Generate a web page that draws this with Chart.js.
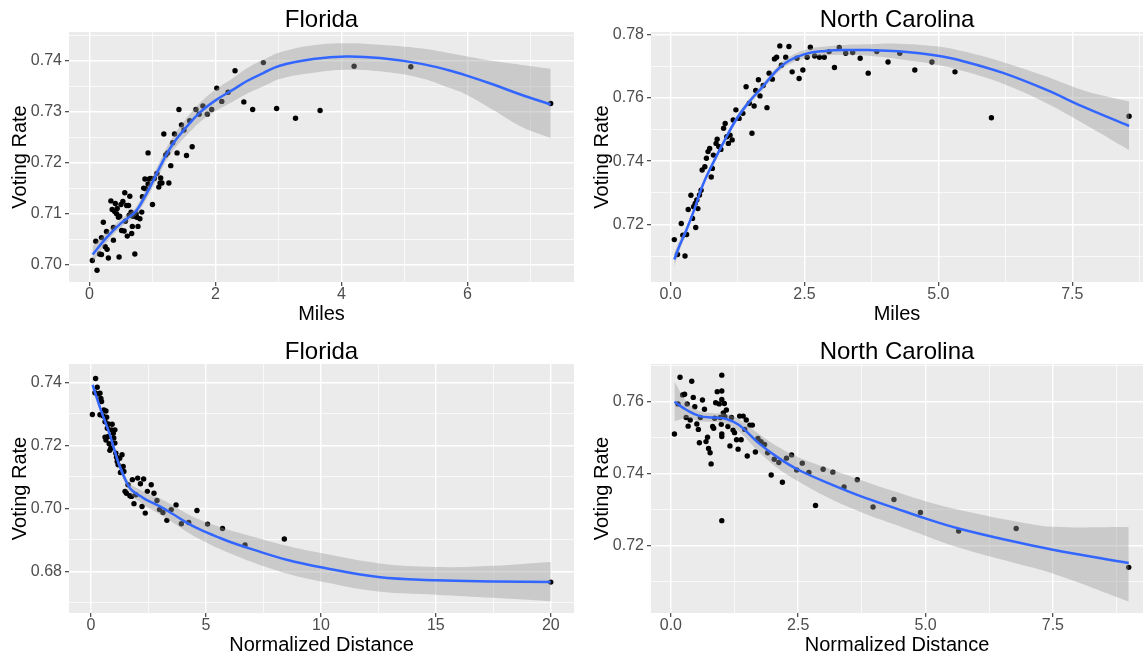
<!DOCTYPE html>
<html>
<head>
<meta charset="utf-8">
<script src="https://cdn.jsdelivr.net/npm/chart.js@4.4.1/dist/chart.umd.min.js"></script>
<style>
  body { margin: 0; background: #fff; width: 1147px; height: 657px; overflow: hidden; position: relative; }
  canvas { position: absolute; }
</style>
</head>
<body>
<canvas id="flMiles" width="580" height="330" style="left:0;top:0"></canvas>
<canvas id="ncMiles" width="565" height="330" style="left:582px;top:0"></canvas>
<canvas id="flNorm" width="580" height="325" style="left:0;top:332px"></canvas>
<canvas id="ncNorm" width="565" height="325" style="left:582px;top:332px"></canvas>
<script>
// Florida, Miles
const flMilesX = [0.045, 0.12, 0.10, 0.19, 0.22, 0.19, 0.16, 0.25, 0.28, 0.27, 0.30, 0.34, 0.38, 0.38, 0.41, 0.36, 0.43, 0.47, 0.48, 0.46,
  0.51, 0.53, 0.56, 0.59, 0.55, 0.62, 0.64, 0.60, 0.67, 0.68, 0.72, 0.69, 0.75, 0.77, 0.80, 0.83, 0.84, 0.88, 0.89, 0.93,
  0.93, 0.97, 1.00, 1.03, 1.07, 1.10, 1.12, 1.15, 1.18, 1.21, 1.24, 1.26, 1.29, 1.32, 1.35, 1.39, 1.42, 1.46, 1.50, 1.54,
  1.59, 1.63, 1.69, 1.74, 1.80, 1.87, 1.94, 2.02, 2.10, 2.20, 2.31, 2.45, 2.59, 2.76, 2.97, 3.27, 3.66, 4.20, 5.10, 7.32,
  0.40, 0.44, 0.50, 0.57, 0.63, 0.66, 0.74, 0.86, 0.95, 1.13];
const flMilesY = [0.7008, 0.6989, 0.7046, 0.7053, 0.7083, 0.7020, 0.7021, 0.7035, 0.7030, 0.7065, 0.7013, 0.7125, 0.7073, 0.7048, 0.7120, 0.7108, 0.7100, 0.7015, 0.7095, 0.7093,
  0.7067, 0.7124, 0.7141, 0.7116, 0.7066, 0.7116, 0.7134, 0.7056, 0.7061, 0.7075, 0.7021, 0.7095, 0.7093, 0.7075, 0.7090, 0.7103, 0.7133, 0.7168, 0.7149, 0.7219,
  0.7158, 0.7169, 0.7118, 0.7169, 0.7179, 0.7152, 0.7160, 0.7160, 0.7256, 0.7215, 0.7219, 0.7160, 0.7194, 0.7239, 0.7256, 0.7219, 0.7304, 0.7274, 0.7264, 0.7214,
  0.7282, 0.7231, 0.7304, 0.7295, 0.7311, 0.7295, 0.7304, 0.7346, 0.7320, 0.7338, 0.7380, 0.7319, 0.7304, 0.7396, 0.7306, 0.7287, 0.7302, 0.7389, 0.7388, 0.7316,
  0.7104, 0.7110, 0.7118, 0.7085, 0.7097, 0.7103, 0.7100, 0.7150, 0.7168, 0.7170];
const flMilesFitX = [0.05, 0.27, 0.48, 0.69, 0.77, 0.96, 1.17, 1.33, 1.54, 1.75, 2.0, 2.28, 2.5, 2.75, 3.02, 3.55, 4.08, 4.61, 5.25, 5.7, 6.0, 6.41, 6.83, 7.32];
const flMilesFit = [0.7020, 0.7053, 0.7079, 0.7099, 0.7110, 0.7152, 0.7204, 0.7238, 0.7270, 0.7298, 0.7322, 0.7343, 0.7360, 0.7375, 0.7390, 0.7403, 0.7408, 0.7405, 0.7394, 0.7381, 0.7370, 0.7353, 0.7334, 0.7314];
const flMilesHi = [0.7036, 0.7063, 0.7087, 0.7107, 0.7119, 0.7163, 0.7216, 0.7252, 0.7287, 0.7317, 0.7343, 0.7366, 0.7385, 0.7401, 0.7416, 0.7430, 0.7434, 0.7431, 0.7424, 0.7415, 0.7408, 0.7399, 0.7392, 0.7384];
const flMilesLo = [0.7004, 0.7043, 0.7071, 0.7091, 0.7101, 0.7141, 0.7192, 0.7224, 0.7253, 0.7279, 0.7301, 0.7320, 0.7335, 0.7349, 0.7364, 0.7376, 0.7382, 0.7379, 0.7366, 0.7347, 0.7332, 0.7303, 0.7272, 0.7248];
const flMilesXTicks = ['0', '2', '4', '6'];
const flMilesYTicks = ['0.70', '0.71', '0.72', '0.73', '0.74'];

// North Carolina, Miles
const ncMilesX = [0.07, 0.13, 0.20, 0.23, 0.27, 0.30, 0.33, 0.38, 0.41, 0.43, 0.46, 0.47, 0.49, 0.51, 0.54, 0.57, 0.59, 0.64, 0.67, 0.70,
  0.73, 0.76, 0.78, 0.80, 0.85, 0.87, 0.90, 0.94, 0.99, 1.02, 1.05, 1.08, 1.11, 1.15, 1.17, 1.22, 1.28, 1.35, 1.41, 1.47,
  1.52, 1.56, 1.59, 1.64, 1.67, 1.73, 1.80, 1.84, 1.90, 1.94, 1.98, 2.04, 2.07, 2.15, 2.21, 2.27, 2.36, 2.40, 2.47, 2.55,
  2.61, 2.69, 2.78, 2.87, 2.96, 3.06, 3.15, 3.27, 3.40, 3.54, 3.69, 3.85, 4.06, 4.28, 4.56, 4.88, 5.31, 5.99, 8.56];
const ncMilesY = [0.7152, 0.7105, 0.7203, 0.7166, 0.7100, 0.7168, 0.7247, 0.7292, 0.7219, 0.7256, 0.7266, 0.7190, 0.7277, 0.7250, 0.7293, 0.7308, 0.7372, 0.7382, 0.7409, 0.7430,
  0.7440, 0.7350, 0.7377, 0.7419, 0.7456, 0.7469, 0.7446, 0.7437, 0.7504, 0.7519, 0.7477, 0.7456, 0.7482, 0.7467, 0.7530, 0.7562, 0.7535, 0.7551, 0.7635, 0.7583,
  0.7488, 0.7574, 0.7623, 0.7657, 0.7606, 0.7639, 0.7569, 0.7678, 0.7659, 0.7723, 0.7728, 0.7764, 0.7703, 0.7728, 0.7762, 0.7682, 0.7725, 0.7661, 0.7688, 0.7728,
  0.7760, 0.7732, 0.7728, 0.7728, 0.7746, 0.7696, 0.7759, 0.7741, 0.7743, 0.7725, 0.7678, 0.7746, 0.7713, 0.7741, 0.7688, 0.7713, 0.7682, 0.7537, 0.7542];
const ncMilesFitX = [0.07, 0.17, 0.30, 0.45, 0.60, 0.79, 0.98, 1.22, 1.47, 1.72, 1.96, 2.21, 2.52, 2.89, 3.26, 3.69, 4.25, 4.99, 5.48, 6.22, 7.02, 7.7, 8.56];
const ncMilesFit = [0.7089, 0.7134, 0.7184, 0.7250, 0.7324, 0.7393, 0.7456, 0.7530, 0.7588, 0.7635, 0.7683, 0.7717, 0.7739, 0.7748, 0.7751, 0.7751, 0.7747, 0.7733, 0.7715, 0.7678, 0.7625, 0.7572, 0.7511];
const ncMilesHi = [0.7110, 0.7150, 0.7195, 0.7260, 0.7333, 0.7402, 0.7465, 0.7539, 0.7597, 0.7645, 0.7693, 0.7728, 0.7752, 0.7762, 0.7767, 0.7769, 0.7771, 0.7762, 0.7746, 0.7712, 0.7667, 0.7624, 0.7588];
const ncMilesLo = [0.7066, 0.7118, 0.7173, 0.7240, 0.7315, 0.7384, 0.7447, 0.7521, 0.7579, 0.7625, 0.7673, 0.7706, 0.7726, 0.7734, 0.7735, 0.7733, 0.7723, 0.7704, 0.7684, 0.7644, 0.7583, 0.7520, 0.7435];
const ncMilesXTicks = ['0.0', '2.5', '5.0', '7.5'];
const ncMilesYTicks = ['0.72', '0.74', '0.76', '0.78'];

// Florida, Normalized Distance
const flNormX = [0.06, 0.17, 0.20, 0.27, 0.29, 0.39, 0.43, 0.39, 0.46, 0.53, 0.56, 0.61, 0.65, 0.68, 0.71, 0.75, 0.61, 0.65, 0.75, 0.79,
  0.82, 0.86, 0.89, 0.92, 0.97, 0.99, 1.04, 1.04, 1.08, 1.11, 1.14, 1.18, 1.25, 1.28, 1.35, 1.40, 1.43, 1.48, 1.54, 1.61,
  1.69, 1.76, 1.80, 1.87, 1.95, 2.03, 2.15, 2.22, 2.29, 2.36, 2.45, 2.62, 2.74, 2.87, 2.98, 3.13, 3.30, 3.49, 3.70, 3.93,
  4.25, 4.61, 5.07, 5.72, 6.70, 8.41, 20.0];
const flNormY = [0.7298, 0.7367, 0.7412, 0.7384, 0.7363, 0.7365, 0.7349, 0.7297, 0.7339, 0.7293, 0.7312, 0.7275, 0.7309, 0.7289, 0.7254, 0.7268, 0.7226, 0.7217, 0.7228, 0.7205,
  0.7184, 0.7191, 0.7249, 0.7267, 0.7238, 0.7223, 0.7207, 0.7249, 0.7175, 0.7162, 0.7149, 0.7138, 0.7159, 0.7114, 0.7170, 0.7133, 0.7117, 0.7054, 0.7048, 0.7075,
  0.7040, 0.7038, 0.7091, 0.7015, 0.7043, 0.7096, 0.7078, 0.7006, 0.7093, 0.6985, 0.7054, 0.7075, 0.7048, 0.7025, 0.6996, 0.6987, 0.6962, 0.6996, 0.7011, 0.6951,
  0.6955, 0.6993, 0.6950, 0.6936, 0.6884, 0.6903, 0.6766];
const flNormFitX = [0.07, 0.4, 0.8, 1.0, 1.2, 1.5, 1.7, 1.9, 2.13, 2.41, 3.0, 3.56, 4.16, 4.71, 5.61, 6.15, 7.06, 8.51, 10, 12.5, 15, 17.5, 20];
const flNormFit = [0.7392, 0.7318, 0.7238, 0.7190, 0.7143, 0.7090, 0.7064, 0.7050, 0.7040, 0.7027, 0.7006, 0.6982, 0.6955, 0.6934, 0.6906, 0.6891, 0.6869, 0.6837, 0.6813, 0.6782, 0.6772, 0.6768, 0.6766];
const flNormHi = [0.7404, 0.7328, 0.7248, 0.7201, 0.7155, 0.7103, 0.7079, 0.7068, 0.7060, 0.7049, 0.7031, 0.7009, 0.6984, 0.6965, 0.6941, 0.6928, 0.6910, 0.6881, 0.6858, 0.6826, 0.6814, 0.6818, 0.6830];
const flNormLo = [0.7380, 0.7308, 0.7228, 0.7179, 0.7131, 0.7077, 0.7049, 0.7032, 0.7020, 0.7005, 0.6981, 0.6955, 0.6926, 0.6903, 0.6871, 0.6854, 0.6828, 0.6793, 0.6768, 0.6736, 0.6726, 0.6716, 0.6705];
const flNormXTicks = ['0', '5', '10', '15', '20'];
const flNormYTicks = ['0.68', '0.70', '0.72', '0.74'];

// North Carolina, Normalized Distance
const ncNormX = [0.07, 0.14, 0.18, 0.23, 0.27, 0.30, 0.32, 0.34, 0.38, 0.41, 0.44, 0.47, 0.51, 0.54, 0.56, 0.58, 0.62, 0.66, 0.69, 0.72,
  0.74, 0.77, 0.79, 0.82, 0.84, 0.86, 0.88, 0.91, 0.95, 0.97, 0.99, 1.00, 1.00, 1.00, 1.00, 1.00, 1.00, 1.03, 1.05, 1.06,
  1.09, 1.12, 1.16, 1.19, 1.22, 1.25, 1.29, 1.32, 1.35, 1.38, 1.42, 1.45, 1.48, 1.50, 1.55, 1.60, 1.66, 1.71, 1.77, 1.84,
  1.90, 1.97, 2.03, 2.12, 2.19, 2.27, 2.37, 2.47, 2.58, 2.71, 2.84, 2.99, 3.18, 3.40, 3.66, 3.97, 4.38, 4.90, 5.65, 6.78, 8.99];
const ncNormY = [0.7510, 0.7594, 0.7668, 0.7619, 0.7621, 0.7556, 0.7594, 0.7532, 0.7549, 0.7657, 0.7612, 0.7586, 0.7538, 0.7523, 0.7486, 0.7556, 0.7605, 0.7579, 0.7489, 0.7501,
  0.7470, 0.7458, 0.7427, 0.7531, 0.7526, 0.7554, 0.7597, 0.7628, 0.7594, 0.7556, 0.7537, 0.7674, 0.7630, 0.7606, 0.7510, 0.7503, 0.7269, 0.7569, 0.7595, 0.7558,
  0.7577, 0.7531, 0.7477, 0.7556, 0.7521, 0.7514, 0.7494, 0.7468, 0.7560, 0.7494, 0.7560, 0.7523, 0.7549, 0.7449, 0.7535, 0.7535, 0.7460, 0.7498, 0.7489, 0.7481,
  0.7458, 0.7396, 0.7440, 0.7431, 0.7376, 0.7443, 0.7452, 0.7410, 0.7429, 0.7403, 0.7311, 0.7412, 0.7404, 0.7363, 0.7383, 0.7307, 0.7328, 0.7292, 0.7240, 0.7247, 0.7139];
const ncNormFitX = [0.07, 0.31, 0.57, 0.83, 1.09, 1.34, 1.73, 2.12, 2.51, 3.1, 3.75, 4.4, 4.98, 5.63, 6.73, 7.5, 8.99];
const ncNormFit = [0.7600, 0.7577, 0.7560, 0.7556, 0.7552, 0.7535, 0.7484, 0.7443, 0.7410, 0.7373, 0.7336, 0.7304, 0.7276, 0.7248, 0.7211, 0.7188, 0.7151];
const ncNormHi = [0.7656, 0.7600, 0.7574, 0.7568, 0.7566, 0.7551, 0.7510, 0.7473, 0.7445, 0.7414, 0.7381, 0.7350, 0.7324, 0.7300, 0.7268, 0.7252, 0.7251];
const ncNormLo = [0.7546, 0.7555, 0.7546, 0.7544, 0.7538, 0.7517, 0.7460, 0.7413, 0.7378, 0.7332, 0.7292, 0.7258, 0.7228, 0.7195, 0.7152, 0.7122, 0.7044];
const ncNormXTicks = ['0.0', '2.5', '5.0', '7.5'];
const ncNormYTicks = ['0.72', '0.74', '0.76'];

Chart.defaults.font.family = "'Liberation Sans', Arial, sans-serif";
Chart.defaults.animation = false;

const pts = (xs, ys) => xs.map((x, i) => ({ x: x, y: ys[i] }));

// grey panel behind the grid
const panelBg = {
  id: 'panelBg',
  beforeDraw(chart) {
    const { ctx, chartArea: a } = chart;
    ctx.save();
    ctx.fillStyle = '#EBEBEB';
    ctx.fillRect(a.left, a.top, a.right - a.left, a.bottom - a.top);
    ctx.restore();
  }
};

// major ticks from labels + minor ones half way between
function axis(labels, min, max, title, isX, size) {
  const major = labels.map(Number);
  const step = major[1] - major[0];
  const list = major.map(v => ({ value: v, minor: false }));
  for (let v = major[0] - step / 2; v <= max; v += step) {
    if (v >= min) list.push({ value: v, minor: true });
  }
  list.sort((a, b) => a.value - b.value);
  return {
    type: 'linear',
    min: min,
    max: max,
    border: { display: false },
    grid: {
      color: '#ffffff',
      lineWidth: c => (c.tick && c.tick.minor) ? 0.7 : 1.4,
      tickColor: c => (c.tick && c.tick.minor) ? 'rgba(0,0,0,0)' : '#333333',
      tickLength: 4,
      tickWidth: 1.1
    },
    afterBuildTicks: s => { s.ticks = list.map(t => ({ value: t.value, minor: t.minor })); },
    afterFit: s => { if (isX) s.height = size; else s.width = size; },
    ticks: {
      autoSkip: false,
      maxRotation: 0,
      minRotation: 0,
      color: '#4D4D4D',
      font: { size: 16, lineHeight: 1 },
      padding: isX ? 1 : 3,
      callback: (v, i, ticks) => {
        if (ticks[i] && ticks[i].minor) return '';
        const k = major.findIndex(m => Math.abs(m - v) < 1e-9);
        return k >= 0 ? labels[k] : '';
      }
    },
    title: {
      display: true,
      text: title,
      color: '#000000',
      font: { size: 20 },
      padding: isX ? { top: 0, bottom: isX === 'low' ? 0 : 4 } : { top: 8, bottom: 0 }
    }
  };
}

function makePanel(id, cfg) {
  new Chart(document.getElementById(id), {
    type: 'line',
    data: {
      datasets: [
        { data: pts(cfg.fitX, cfg.fit), borderColor: '#3366FF', borderWidth: 2.5, pointRadius: 0,
          tension: 0.4, fill: false },
        { data: pts(cfg.fitX, cfg.hi), borderColor: 'rgba(0,0,0,0)', borderWidth: 0, pointRadius: 0,
          tension: 0.4, fill: '+1', backgroundColor: 'rgba(153,153,153,0.4)' },
        { data: pts(cfg.fitX, cfg.lo), borderColor: 'rgba(0,0,0,0)', borderWidth: 0, pointRadius: 0,
          tension: 0.4, fill: false },
        { data: pts(cfg.x, cfg.y), showLine: false, pointRadius: 2.7, pointBorderWidth: 0,
          pointBackgroundColor: '#000000', borderColor: '#000000' }
      ]
    },
    options: {
      responsive: false,
      devicePixelRatio: 1,
      layout: { padding: { left: 0, right: cfg.padRight, top: 0, bottom: 0 } },
      plugins: {
        legend: { display: false },
        tooltip: { enabled: false },
        title: {
          display: true,
          text: cfg.title,
          fullSize: false,
          color: '#000000',
          font: { size: 24, weight: 'normal', lineHeight: 1 },
          padding: { top: 8, bottom: 0 }
        }
      },
      scales: {
        x: axis(cfg.xTicks, cfg.xMin, cfg.xMax, cfg.xTitle, cfg.low ? 'low' : 'high', cfg.xHeight),
        y: axis(cfg.yTicks, cfg.yMin, cfg.yMax, 'Voting Rate', false, 69)
      }
    },
    plugins: [panelBg]
  });
}

makePanel('flMiles', {
  title: 'Florida', xTitle: 'Miles', x: flMilesX, y: flMilesY,
  fitX: flMilesFitX, fit: flMilesFit, hi: flMilesHi, lo: flMilesLo,
  xTicks: flMilesXTicks, yTicks: flMilesYTicks,
  xMin: -0.325, xMax: 7.69, yMin: 0.6966, yMax: 0.7456, padRight: 6, xHeight: 48
});
makePanel('ncMiles', {
  title: 'North Carolina', xTitle: 'Miles', x: ncMilesX, y: ncMilesY,
  fitX: ncMilesFitX, fit: ncMilesFit, hi: ncMilesHi, lo: ncMilesLo,
  xTicks: ncMilesXTicks, yTicks: ncMilesYTicks,
  xMin: -0.365, xMax: 8.82, yMin: 0.7018, yMax: 0.7808, padRight: 0, xHeight: 48
});
makePanel('flNorm', {
  title: 'Florida', xTitle: 'Normalized Distance', x: flNormX, y: flNormY,
  fitX: flNormFitX, fit: flNormFit, hi: flNormHi, lo: flNormLo,
  xTicks: flNormXTicks, yTicks: flNormYTicks,
  xMin: -0.957, xMax: 21.01, yMin: 0.6668, yMax: 0.7458, padRight: 6, xHeight: 44, low: true
});
makePanel('ncNorm', {
  title: 'North Carolina', xTitle: 'Normalized Distance', x: ncNormX, y: ncNormY,
  fitX: ncNormFitX, fit: ncNormFit, hi: ncNormHi, lo: ncNormLo,
  xTicks: ncNormXTicks, yTicks: ncNormYTicks,
  xMin: -0.39, xMax: 9.27, yMin: 0.7012, yMax: 0.7705, padRight: 0, xHeight: 44, low: true
});
</script>
</body>
</html>
